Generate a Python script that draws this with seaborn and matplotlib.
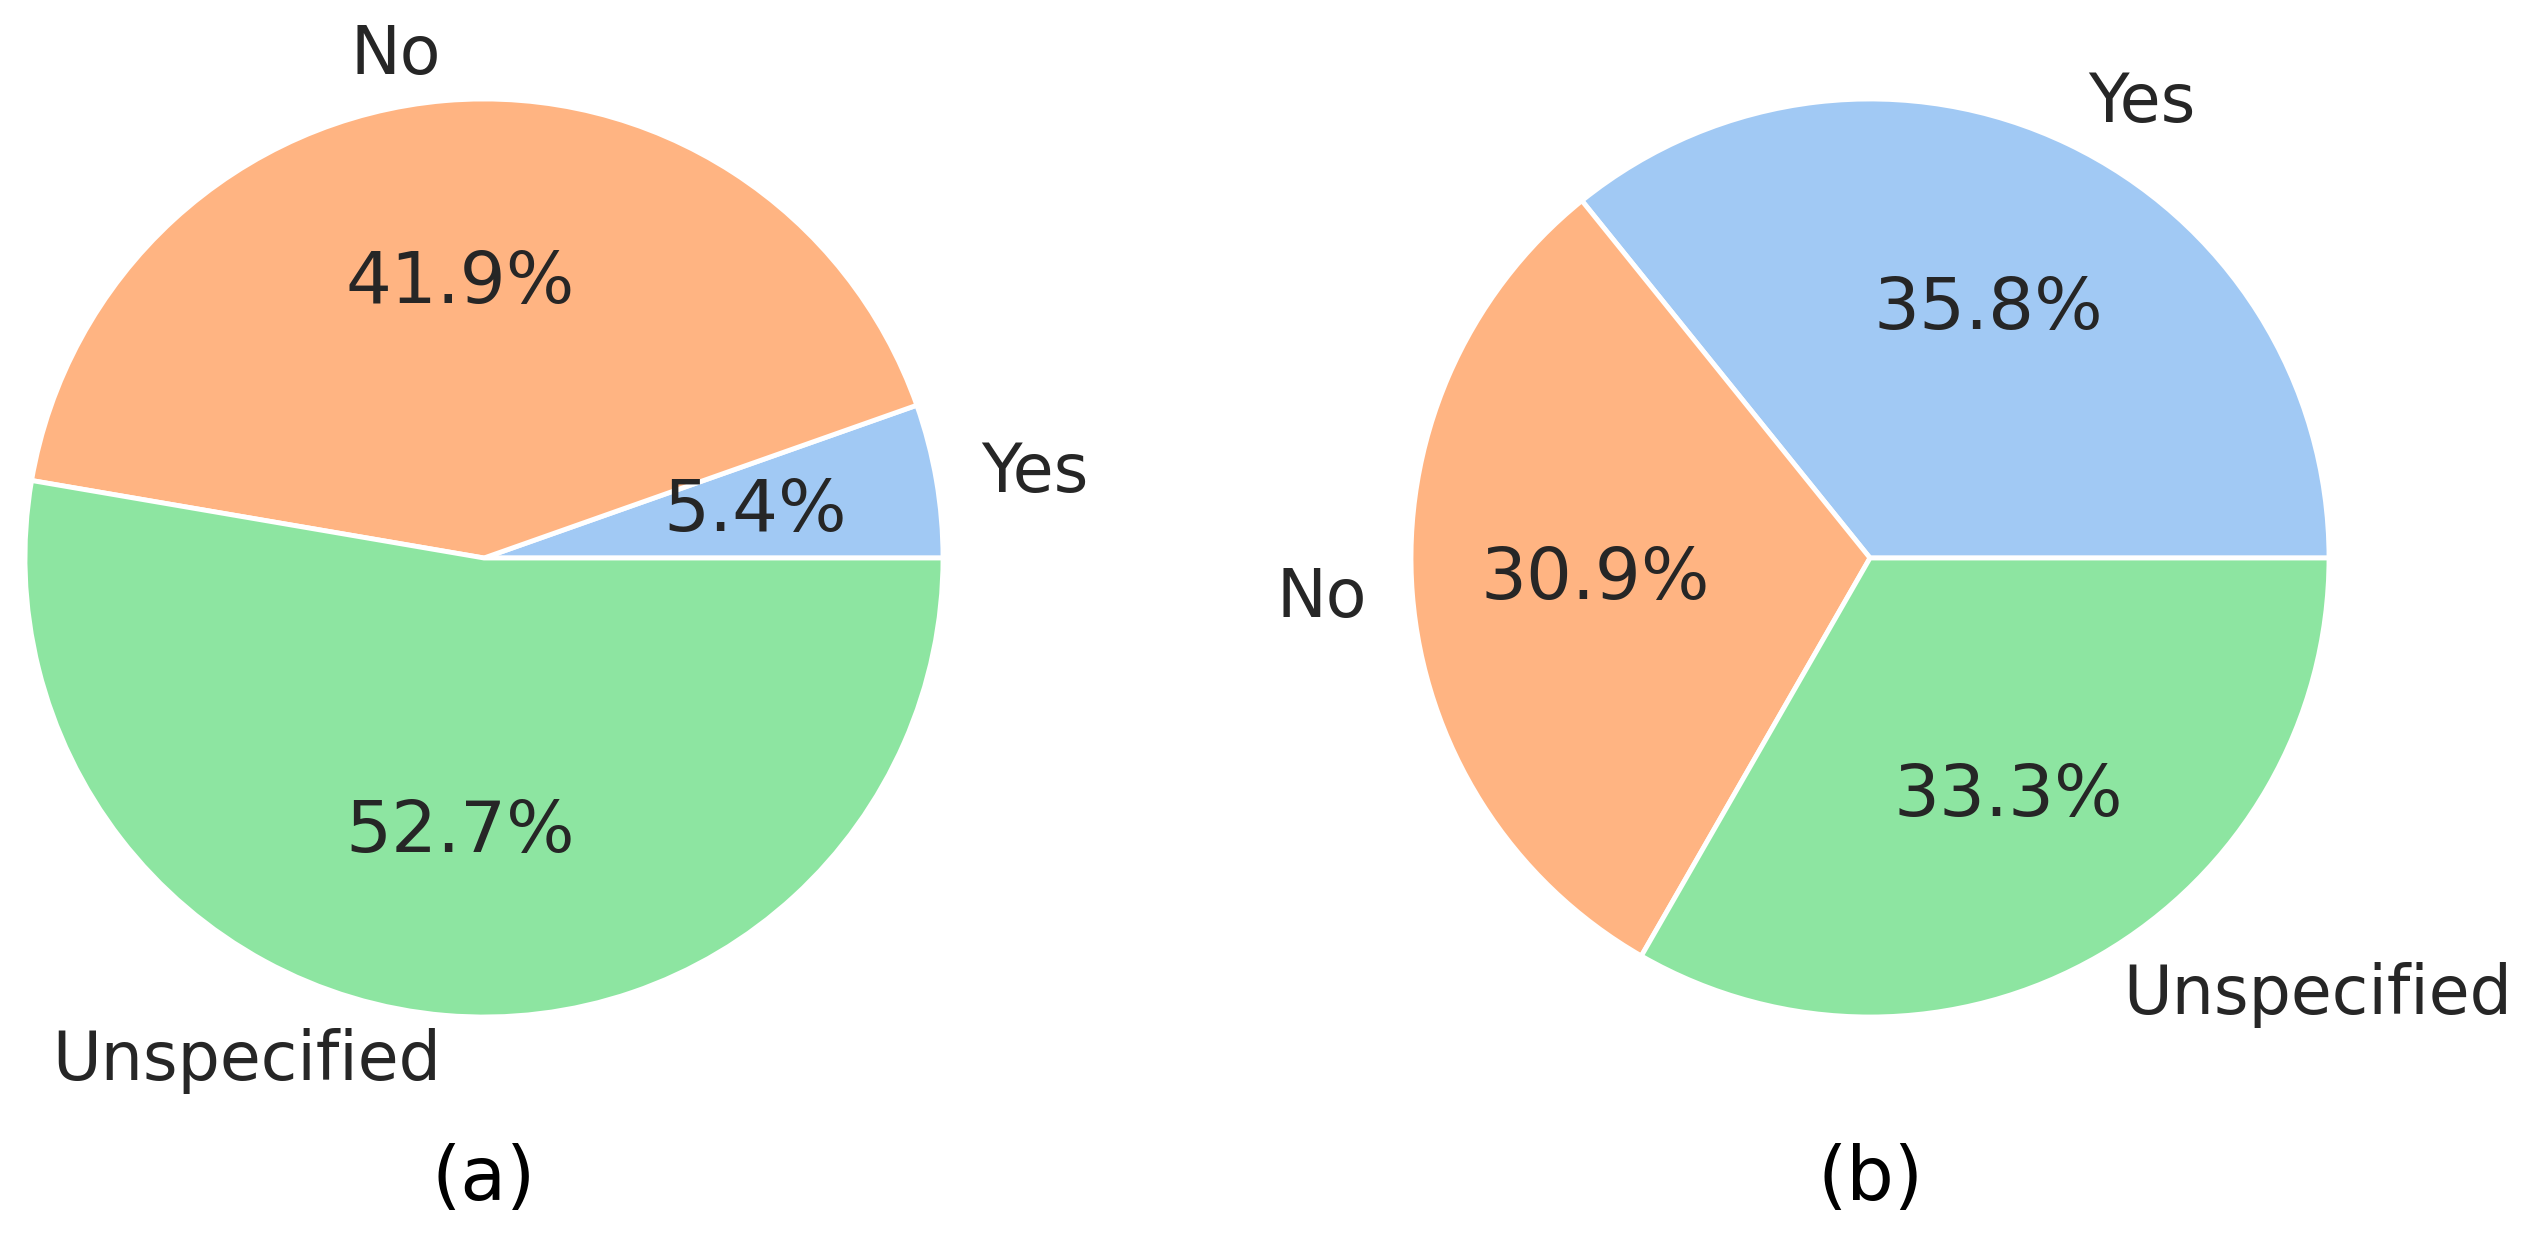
import matplotlib
matplotlib.use("Agg")
import matplotlib.pyplot as plt
import seaborn as sns

sns.set_theme(style="white")
plt.rcParams['font.family'] = ['DejaVu Sans']

categories = ["Yes", "No", "Unspecified"]
values_a = [5.4, 41.9, 52.7]
values_b = [35.8, 30.9, 33.3]
captions = ["(a)", "(b)"]

colors = sns.color_palette("pastel")[:3]

W, H = 2523, 1258
fig = plt.figure(figsize=(W / 100, H / 100), dpi=100)

r_px = 459
side = 2.5 * r_px
centers = [(484, 558), (1870, 558)]

for (cx, cy), vals, cap in zip(centers, [values_a, values_b], captions):
    ax = fig.add_axes([(cx - side / 2) / W, (H - cy - side / 2) / H, side / W, side / H])
    wedges, texts, autotexts = ax.pie(
        vals, labels=categories, colors=colors, autopct="%1.1f%%",
        wedgeprops=dict(edgecolor="white", linewidth=3.5),
        textprops=dict(fontsize=48, color=".15"),
    )
    for t in autotexts:
        t.set_fontsize(52)
    ax.set_aspect("equal")
    fig.text(cx / W, 1 - 1179 / H, cap, ha="center", va="center", fontsize=54, color="black")

fig.savefig("out.png", dpi=100, facecolor="white")
